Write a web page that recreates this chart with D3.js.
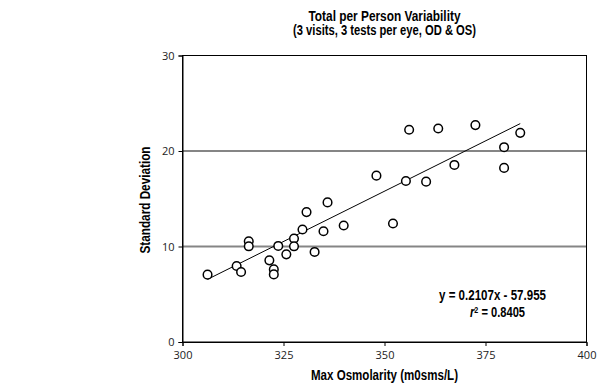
<!DOCTYPE html>
<html>
<head>
<meta charset="utf-8">
<script src="https://cdn.jsdelivr.net/npm/d3@7"></script>
<style>
  body { margin: 0; background: #fff; }
  .cond { font-family: 'Liberation Sans', Arial, sans-serif; font-weight: bold; font-size: 14px; }
  .tick text { font-family: 'Open Sans', 'Noto Sans', sans-serif; font-size: 11px; fill: #222; }
</style>
</head>
<body>
<div id="chart"></div>
<script>
// max osmolarity (x) vs standard deviation (y)
const osmolarity = [306.2, 313.4, 314.5, 316.4, 316.4, 321.5, 322.6, 322.6, 323.7, 325.7,
  327.6, 327.6, 329.7, 330.7, 332.7, 334.9, 335.9, 339.9, 348.0, 352.1,
  355.3, 356.1, 360.3, 363.3, 367.3, 372.5, 379.6, 379.6, 383.6];
const stdDev = [7.05, 7.96, 7.33, 10.55, 10.02, 8.55, 7.6, 7.08, 10.06, 9.18,
  10.83, 10.02, 11.78, 13.6, 9.43, 11.6, 14.62, 12.2, 17.42, 12.41,
  16.86, 22.22, 16.79, 22.36, 18.54, 22.71, 20.4, 18.23, 21.9];
const xTicks = [300, 325, 350, 375, 400];
const yTicks = [0, 10, 20, 30];
const slope = 0.2107, intercept = -57.955;
const titleLines = ['Total per Person Variability', '(3 visits, 3 tests per eye, OD & OS)'];

const W = 599, H = 387;
const margin = {top: 55.5, right: 12.5, bottom: 45, left: 182.5};
const width = W - margin.left - margin.right;
const height = H - margin.top - margin.bottom;

const svg = d3.select('#chart').append('svg')
  .attr('width', W)
  .attr('height', H);

const g = svg.append('g').attr('transform', `translate(${margin.left},${margin.top})`);

const x = d3.scaleLinear().domain([300, 400]).range([0, width]);
const y = d3.scaleLinear().domain([0, 30]).range([height, 0]);

// gridlines
g.selectAll('.grid')
  .data(yTicks.filter(t => t > 0 && t < 30))
  .enter().append('line')
    .attr('class', 'grid')
    .attr('x1', 0).attr('x2', width)
    .attr('y1', d => y(d)).attr('y2', d => y(d))
    .attr('stroke', '#858585')
    .attr('stroke-width', 1.8);

// plot frame
g.append('rect')
  .attr('width', width).attr('height', height)
  .attr('fill', 'none')
  .attr('stroke', '#000')
  .attr('stroke-width', 1);

const xAxis = g.append('g')
  .attr('transform', `translate(0,${height})`)
  .call(d3.axisBottom(x).tickValues(xTicks).tickSize(4).tickPadding(5).tickFormat(d3.format('d')));
const yAxis = g.append('g')
  .call(d3.axisLeft(y).tickValues(yTicks).tickSize(4).tickPadding(4).tickFormat(d3.format('d')));
[xAxis, yAxis].forEach(a => {
  a.select('.domain').attr('stroke', '#000');
  a.selectAll('.tick line').attr('stroke', '#000');
});

// trendline over data range
const xr = d3.extent(osmolarity);
g.append('line')
  .attr('x1', x(xr[0])).attr('y1', y(slope * xr[0] + intercept))
  .attr('x2', x(xr[1])).attr('y2', y(slope * xr[1] + intercept))
  .attr('stroke', '#000')
  .attr('stroke-width', 1);

// points
g.selectAll('.pt')
  .data(osmolarity.map((v, i) => [v, stdDev[i]]))
  .enter().append('circle')
    .attr('class', 'pt')
    .attr('cx', d => x(d[0]))
    .attr('cy', d => y(d[1]))
    .attr('r', 4.3)
    .attr('fill', '#fff')
    .attr('stroke', '#000')
    .attr('stroke-width', 1.5);

// condensed-looking labels: squeeze to the widths seen in the reference
function label(txt, cx, cy, len, rotate) {
  const t = svg.append('text')
    .attr('class', 'cond')
    .attr('text-anchor', 'middle')
    .attr('textLength', len)
    .attr('lengthAdjust', 'spacingAndGlyphs')
    .text(txt);
  if (rotate) t.attr('transform', `translate(${cx},${cy}) rotate(-90)`);
  else t.attr('x', cx).attr('y', cy);
  return t;
}

const cx = margin.left + width / 2;
label(titleLines[0], cx, 20.5, 152);
label(titleLines[1], cx, 35, 183);
label('Max Osmolarity (m0sms/L)', cx, 380, 147);
label('Standard Deviation', 150, 200, 107, true);
label(`y = ${slope}x - ${Math.abs(intercept)}`, 492.5, 300, 107);

const r2 = svg.append('text')
  .attr('class', 'cond')
  .attr('x', 497.5).attr('y', 317)
  .attr('text-anchor', 'middle')
  .attr('textLength', 55)
  .attr('lengthAdjust', 'spacingAndGlyphs');
r2.append('tspan').style('font-style', 'italic').text('r');
r2.append('tspan').attr('dy', -4).style('font-size', '9px').text('2');
r2.append('tspan').attr('dy', 4).text(' = 0.8405');
</script>
</body>
</html>
